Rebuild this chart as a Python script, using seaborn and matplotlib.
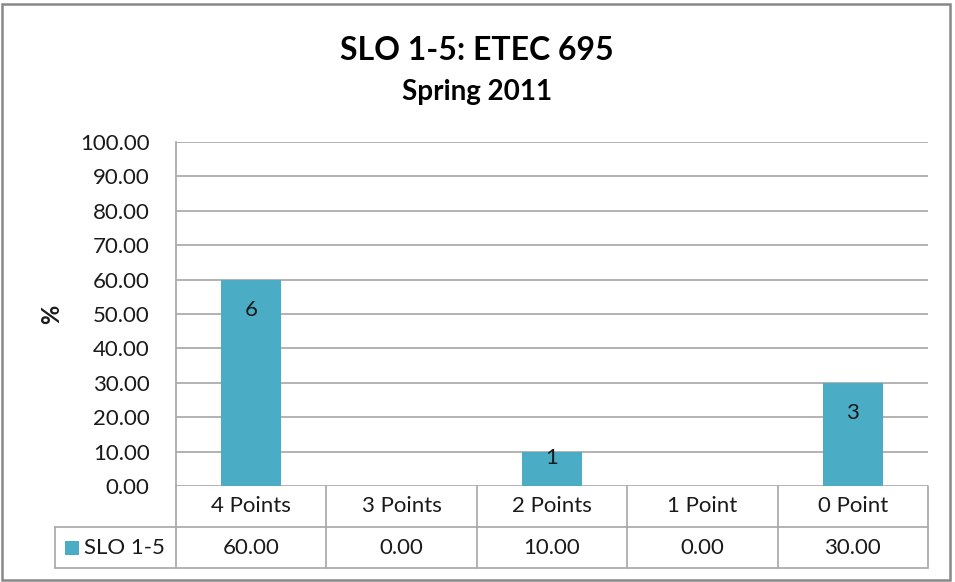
import matplotlib
matplotlib.use("Agg")
import matplotlib.pyplot as plt
from matplotlib.patches import Rectangle
from matplotlib.ticker import FuncFormatter, MultipleLocator
import pandas as pd
import seaborn as sns

# data
categories = ["4 Points", "3 Points", "2 Points", "1 Point", "0 Point"]
percent = [60.00, 0.00, 10.00, 0.00, 30.00]
counts = [6, 0, 1, 0, 3]
series_name = "SLO 1-5"
title = "SLO 1-5: ETEC 695"
subtitle = "Spring 2011"

BAR = "#4BACC6"
GRID = "#A6A6A6"
TEXT = "#1a1a1a"

sns.set_theme(style="white")
plt.rcParams["font.family"] = ["Lato", "DejaVu Sans"]

W, H = 955, 582
fig = plt.figure(figsize=(W / 100, H / 100), dpi=100)
# plot area in pixels: x 176..928, y 142..486
ax = fig.add_axes([176 / W, 1 - 486 / H, 752 / W, 344 / H])

df = pd.DataFrame({"category": categories, "percent": percent})
sns.barplot(data=df, x="category", y="percent", color=BAR, width=0.4,
            saturation=1, linewidth=0, ax=ax)

ax.set_xlim(-0.5, len(categories) - 0.5)
ax.set_ylim(0, 100)
ax.yaxis.set_major_locator(MultipleLocator(10))
ax.yaxis.set_major_formatter(FuncFormatter(lambda v, _: f"{v:.2f}"))
ax.yaxis.grid(True, color=GRID, lw=1.2)
ax.set_axisbelow(True)
ax.tick_params(axis="y", length=0, pad=19, labelsize=16, labelcolor=TEXT)
ax.tick_params(axis="x", length=0, labelbottom=False)
ax.set_xlabel("")
ax.set_ylabel("%", fontsize=17, fontweight="bold", color=TEXT)
ax.yaxis.set_label_coords(-0.15, 0.5)
for side in ["top", "right", "bottom"]:
    ax.spines[side].set_visible(False)
ax.spines["left"].set_color(GRID)
ax.spines["left"].set_linewidth(1.2)

# count labels at the inside end of each bar
offset = 8.7
for i, (v, c) in enumerate(zip(percent, counts)):
    if c == 0:
        continue
    y = v - offset if v > 2 * offset else v - 0.2 * offset
    ax.text(i, y, str(c), ha="center", va="center", fontsize=16, color=TEXT)

# data table under the plot (x in data units, y in axes units)
trans = ax.get_xaxis_transform()
row_h = 41 / 344
y_head = -row_h
y_data = -2 * row_h
x_left = -0.5 - 121 / 150.4
x_right = len(categories) - 0.5
line_kw = dict(color=GRID, lw=1.2, transform=trans, clip_on=False)

for b in range(len(categories) + 1):
    ax.plot([b - 0.5, b - 0.5], [0, y_data], **line_kw)
ax.plot([x_left, x_left], [y_head, y_data], **line_kw)
ax.plot([x_left, x_right], [y_head, y_head], **line_kw)
ax.plot([x_left, x_right], [y_data, y_data], **line_kw)

for i, (cat, v) in enumerate(zip(categories, percent)):
    ax.text(i, y_head / 2, cat, ha="center", va="center", fontsize=16,
            color=TEXT, transform=trans)
    ax.text(i, (y_head + y_data) / 2, f"{v:.2f}", ha="center", va="center",
            fontsize=16, color=TEXT, transform=trans)

# legend key + series name in the row header cell
ax.add_patch(Rectangle((x_left + 10 / 150.4, (y_head + y_data) / 2 - 7 / 344),
                       14 / 150.4, 14 / 344, facecolor=BAR, edgecolor="none",
                       transform=trans, clip_on=False))
ax.text(x_left + 29 / 150.4, (y_head + y_data) / 2, series_name, ha="left",
        va="center", fontsize=16, color=TEXT, transform=trans)

fig.text(477 / W, 1 - 50 / H, title, ha="center", va="center",
         fontsize=23, fontweight="bold", color="black")
fig.text(477 / W, 1 - 92 / H, subtitle, ha="center", va="center",
         fontsize=20, fontweight="bold", color="black")

# chart frame
fig.patches.append(Rectangle((2 / W, 2 / H), 948 / W, 576 / H, fill=False,
                             edgecolor="#888888", lw=1.8,
                             transform=fig.transFigure, figure=fig))

fig.savefig("out.png", dpi=100)
